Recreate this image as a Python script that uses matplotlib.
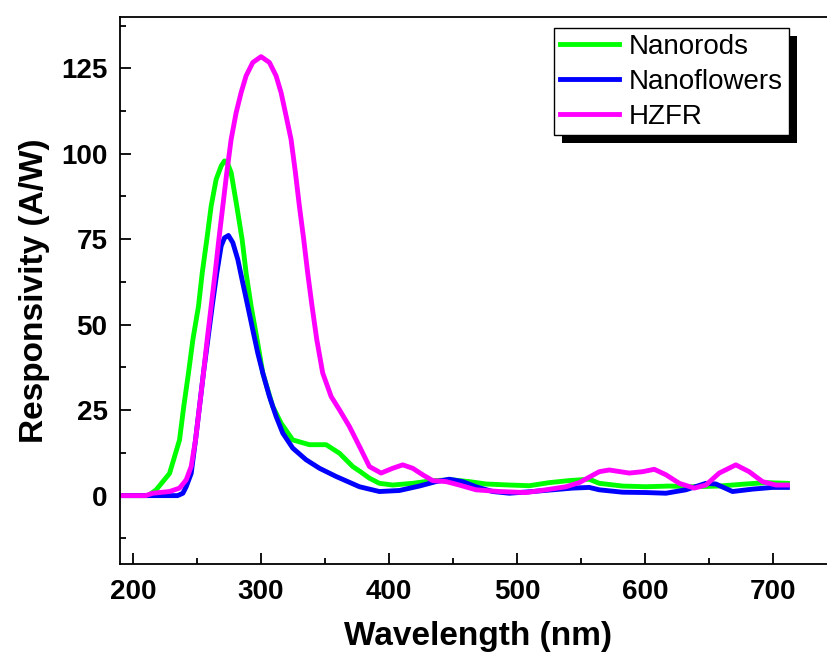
import matplotlib
matplotlib.use("Agg")
import matplotlib.pyplot as plt
from matplotlib.patches import Rectangle
from matplotlib.ticker import MultipleLocator

plt.rcParams['font.family'] = ['Liberation Sans', 'DejaVu Sans']

# Nanorods (green)
rods_x = [190, 212, 218.2, 228.7, 236.5, 239.8, 243.5, 246.9, 251.3, 254.2, 257.8, 261.2, 265.1, 269,
          271.6, 274, 276.8, 281.2, 285.4, 288.5, 292.4, 297.1, 301.5, 309.3, 315.8, 324.9, 337.9,
          351, 361.4, 371.8, 377, 384.8, 392.6, 403, 418.6, 434.2, 449.8, 462.8, 475.9, 494.1,
          509.7, 525.3, 540.9, 556.5, 564.3, 582.5, 600.8, 619, 637.2, 658, 678.8, 694.5, 711.3]
rods_y = [0, 0, 1.67, 6.5, 16.3, 26.1, 35.9, 45.6, 55.4, 65.1, 74.9, 84.7, 92.5, 96.4,
          97.9, 97.2, 94.5, 84.7, 74.9, 65.1, 55.4, 45.6, 35.9, 26.1, 21.2, 16.3, 14.9,
          14.9, 12.4, 8.5, 7.2, 5.1, 3.6, 3.1, 3.6, 4.4, 4.6, 4.1, 3.4, 3.1,
          2.9, 3.8, 4.4, 4.8, 3.6, 2.8, 2.6, 2.8, 2.6, 2.8, 3.4, 3.8, 3.6]

# Nanoflowers (blue)
flow_x = [190, 235, 239.1, 241.7, 245.6, 249, 252.1, 255.2, 258.6, 262, 265.6, 269, 271.6, 274.7,
          278.1, 282, 285.9, 289.8, 293.7, 297.6, 301.5, 306.7, 311.9, 317.1, 324.9, 335.3, 345.8,
          358.8, 377, 392.6, 408.2, 423.8, 436.8, 447.2, 457.6, 468, 481, 494.1, 512.3, 527.9,
          543.5, 556.5, 564.3, 582.5, 600.8, 616.4, 632, 647.6, 655.4, 668.4, 684, 699.6, 711.3]
flow_y = [0, 0, 0.7, 2.6, 6.5, 16.3, 26.1, 35.9, 45.6, 55.4, 65.1, 73, 75.4, 76.1,
          74, 69.1, 62.2, 55.4, 48.5, 41.7, 35.9, 29, 23.2, 18.3, 13.9, 10.5, 8,
          5.6, 2.6, 1.2, 1.5, 2.8, 4.1, 4.8, 4.1, 2.6, 1.2, 0.7, 1.2, 1.7,
          2.2, 2.4, 1.7, 1.0, 0.9, 0.7, 1.7, 3.6, 3.4, 1.2, 1.9, 2.4, 2.4]

# HZFR (magenta)
hzfr_x = [190, 210, 215.6, 228.7, 236.5, 241.7, 245.6, 249, 252.1, 255.2, 258.1, 261.2, 264.3, 267.2,
          270.3, 273.4, 276.8, 280.7, 284.6, 288.5, 293.7, 300.2, 306.7, 311.9, 315.8, 319.7, 323.6,
          327, 330.1, 333.5, 336.6, 340, 343.7, 348.3, 354.9, 361.4, 369.2, 377, 384.8, 393.9, 403,
          410.8, 418.6, 426.4, 434.2, 444.7, 455, 468, 486.3, 507.1, 522.7, 538.3, 548.7, 556.5,
          564.3, 572.1, 587.7, 598.1, 607.3, 616.4, 626.8, 638.5, 647.6, 658, 671, 681.4, 691.8,
          702.3, 711.3]
hzfr_y = [0, 0, 0.7, 1.2, 2.2, 4.6, 8.5, 16.3, 26.1, 35.9, 45.6, 55.4, 65.1, 74.9,
          84.7, 94.5, 104.2, 112, 117.9, 122.8, 126.7, 128.4, 126.7, 122.8, 117.9, 111.1, 104.2,
          94.5, 84.7, 74.9, 65.1, 55.4, 45.6, 35.9, 29, 25.1, 20.2, 14.4, 8.5, 6.6, 8,
          9, 8, 6.1, 4.4, 4.1, 3.1, 1.7, 1.2, 0.9, 1.7, 2.6, 3.8, 5.4,
          7, 7.5, 6.6, 7, 7.7, 6.1, 3.6, 2.2, 3.1, 6.6, 9, 7, 4.1,
          3.1, 3.1]

fig = plt.figure(figsize=(8.27, 6.53), dpi=100)
ax = fig.add_axes([120 / 827, 89 / 653, 717 / 827, 547 / 653])

ax.plot(rods_x, rods_y, color="#00FF00", lw=3.5, label="Nanorods", solid_joinstyle='round')
ax.plot(flow_x, flow_y, color="#0000FF", lw=3.5, label="Nanoflowers", solid_joinstyle='round')
ax.plot(hzfr_x, hzfr_y, color="#FF00FF", lw=3.5, label="HZFR", solid_joinstyle='round')

ax.set_xlim(190, 750)
ax.set_ylim(-20, 140)
ax.xaxis.set_major_locator(MultipleLocator(100))
ax.xaxis.set_minor_locator(MultipleLocator(50))
ax.yaxis.set_major_locator(MultipleLocator(25))
ax.yaxis.set_minor_locator(MultipleLocator(12.5))
ax.tick_params(which='both', direction='in', width=1.3)
ax.tick_params(which='major', length=8, labelsize=20, pad=9)
ax.tick_params(axis='x', which='major', pad=11)
ax.tick_params(which='minor', length=4.5)
for lab in ax.get_xticklabels() + ax.get_yticklabels():
    lab.set_fontweight('bold')
for sp in ax.spines.values():
    sp.set_linewidth(1.3)

ax.set_xlabel("Wavelength (nm)", fontsize=24, fontweight='bold', labelpad=11)
ax.set_ylabel("Responsivity (A/W)", fontsize=24, fontweight='bold', labelpad=8)

leg = ax.legend(loc='upper left', bbox_to_anchor=(554 / 827, 1 - 28 / 653),
                bbox_transform=fig.transFigure, borderaxespad=0, fontsize=20,
                fancybox=False, edgecolor='black', framealpha=1,
                handlelength=2.15, handletextpad=0.35, labelspacing=0.33,
                borderpad=0.2)
leg.get_frame().set_linewidth(1.0)
leg.set_zorder(10)

# black drop shadow behind the legend
fig.canvas.draw()
bb = leg.get_window_extent().transformed(fig.transFigure.inverted())
shadow = Rectangle((bb.x0 + 8 / 827, bb.y0 - 8 / 653), bb.width, bb.height,
                   transform=fig.transFigure, facecolor='black', edgecolor='none',
                   zorder=9, clip_on=False)
ax.add_patch(shadow)

fig.savefig("out.png", dpi=100)
